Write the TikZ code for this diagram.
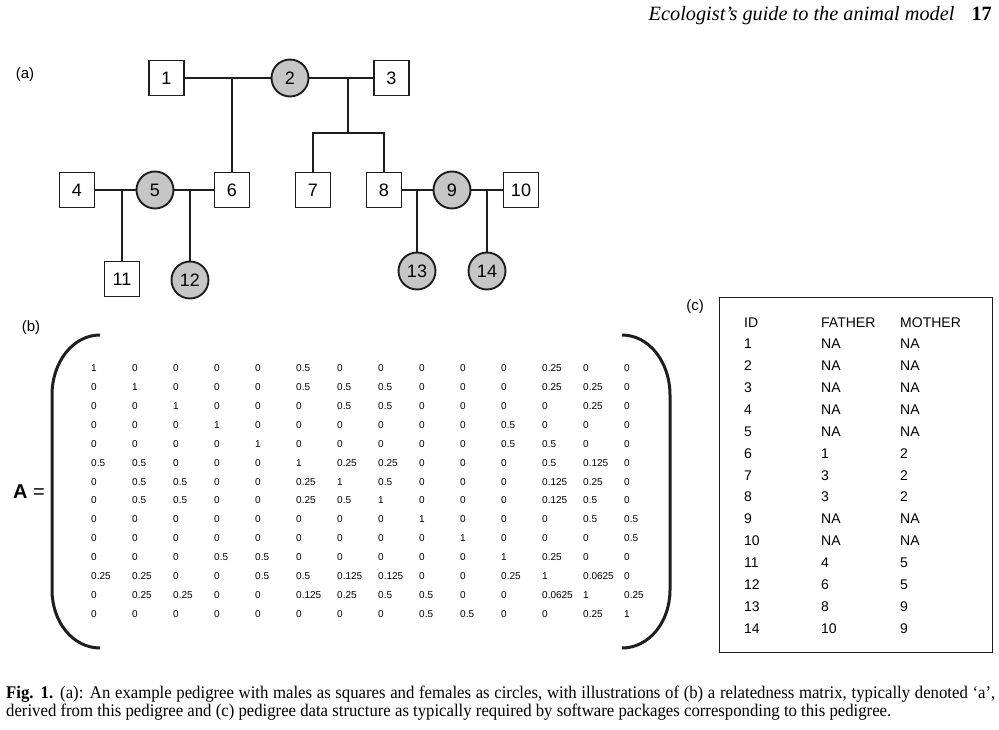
\documentclass[tikz,border=0pt]{standalone}
\usepackage{fontspec}
\setmainfont{Liberation Serif}
\setsansfont{Liberation Sans}
\newfontfamily\capfont[FakeStretch=0.94]{Liberation Serif}
\usetikzlibrary{positioning}
\definecolor{ink}{HTML}{1E1E1E}
\definecolor{femgray}{HTML}{C6C6C6}
\tikzset{
        male/.style={draw=ink, line width=1.9pt, minimum size=35pt, inner sep=0pt,
                font=\sffamily\fontsize{18}{18}\selectfont}, % squares
        female/.style={circle, draw=ink, fill=femgray, line width=1.9pt, minimum size=37pt,
                inner sep=0pt, font=\sffamily\fontsize{18}{18}\selectfont}, % circles
        link/.style={draw=ink, line width=1.3pt},
        entry/.style={anchor=base west, inner sep=0pt, font=\sffamily\fontsize{10}{12}\selectfont},
        cell/.style={anchor=base west, inner sep=0pt, font=\sffamily\fontsize{14}{16}\selectfont},
        panel/.style={inner sep=0pt, font=\sffamily\fontsize{15}{16}\selectfont}
        }

\begin{document}
\begin{tikzpicture}[x=1pt, y=-1pt]
        \useasboundingbox (0,0) rectangle (999,730);

        % running head
        \node[anchor=base east, inner sep=0pt, font=\fontsize{20.3}{21}\selectfont] (runhead) at (992,21)
                {\textit{Ecologist’s guide to the animal model}\hspace{17pt}\textbf{17}};

        % (a) pedigree
        \node[panel] (la) at (25,75) {(a)};
        \node[male]   (i1)  at (166.5,78) {1};
        \node[female] (i2)  at (290,78) {2};
        \node[male]   (i3)  at (391.5,78) {3};
        \node[male]   (i4)  at (77,190) {4};
        \node[female] (i5)  at (155,190) {5};
        \node[male]   (i6)  at (232,190) {6};
        \node[male]   (i7)  at (313,190) {7};
        \node[male]   (i8)  at (384,190) {8};
        \node[female] (i9)  at (452,190) {9};
        \node[male]   (i10) at (521,190) {10};
        \node[male]   (i11) at (122,279) {11};
        \node[female] (i12) at (190,280) {12};
        \node[female] (i13) at (417,271) {13};
        \node[female] (i14) at (487,271) {14};

        \coordinate (m12) at (232,78);
        \coordinate (m23) at (348,78);
        \coordinate (s23) at (348,133);
        \coordinate (m45) at (122,190);
        \coordinate (m56) at (190,190);
        \coordinate (m89) at (417,190);
        \coordinate (m910) at (487,190);

        \draw[link] (i1) -- (i2) (i2) -- (i3)
                    (i4) -- (i5) (i5) -- (i6)
                    (i8) -- (i9) (i9) -- (i10);
        \draw[link] (m12) -- (i6)
                    (m23) -- (s23)
                    (m45) -- (i11)
                    (m56) -- (i12)
                    (m89) -- (i13)
                    (m910) -- (i14);
        \draw[link] (i7.north) |- (s23) -| (i8.north);

        % (b) relatedness matrix
        \node[panel] (lb) at (31,328) {(b)};
        \node[inner sep=0pt, font=\sffamily\fontsize{20}{20}\selectfont] (amat) at (29,492) {\textbf{A} =};
        \draw[ink, line width=3pt] (100,335) .. controls (73,335) and (52,362) .. (52,395) -- (52,590)
                .. controls (52,622) and (73,648) .. (100,648);
        \draw[ink, line width=3pt] (622,335) .. controls (649,335) and (670,362) .. (670,395) -- (670,590)
                .. controls (670,622) and (649,648) .. (622,648);
        \foreach \row [count=\r] in {
                {1,0,0,0,0,0.5,0,0,0,0,0,0.25,0,0},
                {0,1,0,0,0,0.5,0.5,0.5,0,0,0,0.25,0.25,0},
                {0,0,1,0,0,0,0.5,0.5,0,0,0,0,0.25,0},
                {0,0,0,1,0,0,0,0,0,0,0.5,0,0,0},
                {0,0,0,0,1,0,0,0,0,0,0.5,0.5,0,0},
                {0.5,0.5,0,0,0,1,0.25,0.25,0,0,0,0.5,0.125,0},
                {0,0.5,0.5,0,0,0.25,1,0.5,0,0,0,0.125,0.25,0},
                {0,0.5,0.5,0,0,0.25,0.5,1,0,0,0,0.125,0.5,0},
                {0,0,0,0,0,0,0,0,1,0,0,0,0.5,0.5},
                {0,0,0,0,0,0,0,0,0,1,0,0,0,0.5},
                {0,0,0,0.5,0.5,0,0,0,0,0,1,0.25,0,0},
                {0.25,0.25,0,0,0.5,0.5,0.125,0.125,0,0,0.25,1,0.0625,0},
                {0,0.25,0.25,0,0,0.125,0.25,0.5,0.5,0,0,0.0625,1,0.25},
                {0,0,0,0,0,0,0,0,0.5,0.5,0,0,0.25,1}} {
            \foreach \val [count=\c] in \row {
                \node[entry] (a\r-\c) at ({91+41*(\c-1)},{371.5+18.92*(\r-1)}) {\val};
            }
        }

        % (c) pedigree data structure
        \node[panel] (lc) at (695,307) {(c)};
        \draw[ink, line width=1pt] (719,297) rectangle (992,652);
        \foreach \row [count=\r] in {
                {ID,FATHER,MOTHER},
                {1,NA,NA},{2,NA,NA},{3,NA,NA},{4,NA,NA},{5,NA,NA},
                {6,1,2},{7,3,2},{8,3,2},{9,NA,NA},{10,NA,NA},
                {11,4,5},{12,6,5},{13,8,9},{14,10,9}} {
            \foreach \val [count=\c] in \row {
                \pgfmathsetmacro{\cx}{{744,821,900}[\c-1]}
                \node[cell] (t\r-\c) at (\cx,{327+21.86*(\r-1)}) {\val};
            }
        }

        % caption
        \node[anchor=base west, text width=989pt, align=justify, inner sep=0pt,
              font=\capfont\fontsize{17.8}{18.5}\selectfont] (caption) at (6,698)
              {\textbf{Fig. 1.} (a): An example pedigree with males as squares and females as circles, with illustrations of (b) a relatedness matrix, typically denoted ‘a’,\linebreak derived from this pedigree and (c) pedigree data structure as typically required by software packages corresponding to this pedigree.};
\end{tikzpicture}
\end{document}
